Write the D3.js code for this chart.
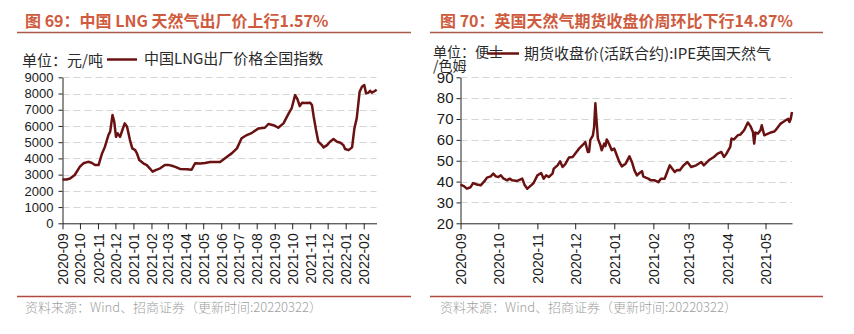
<!DOCTYPE html>
<html>
<head>
<meta charset="utf-8">
<script src="https://cdn.jsdelivr.net/npm/d3@7"></script>
<style>
  body { margin: 0; background: #fff; }
  svg { display: block; }
</style>
</head>
<body>
<svg id="chart" width="854" height="334"></svg>
<script>
// ---- China LNG ex-factory price index (yuan / ton) ----
const lngDates = ['2020-09-01','2020-09-08','2020-09-14','2020-09-22','2020-10-01','2020-10-07','2020-10-15','2020-10-21','2020-10-27','2020-11-02','2020-11-08','2020-11-13','2020-11-19','2020-11-22','2020-11-26','2020-11-29','2020-12-02','2020-12-05','2020-12-09','2020-12-13','2020-12-17','2020-12-21','2020-12-26','2020-12-30','2021-01-04','2021-01-07','2021-01-11','2021-01-18','2021-01-24','2021-01-29','2021-02-03','2021-02-08','2021-02-16','2021-02-24','2021-03-02','2021-03-08','2021-03-14','2021-03-22','2021-04-03','2021-04-11','2021-04-17','2021-04-26','2021-05-04','2021-05-13','2021-05-30','2021-06-11','2021-06-19','2021-06-28','2021-07-06','2021-07-15','2021-07-24','2021-08-04','2021-08-15','2021-08-21','2021-08-30','2021-09-07','2021-09-16','2021-09-25','2021-09-30','2021-10-06','2021-10-10','2021-10-14','2021-10-18','2021-10-23','2021-11-01','2021-11-04','2021-11-07','2021-11-11','2021-11-15','2021-11-21','2021-11-24','2021-11-30','2021-12-05','2021-12-11','2021-12-17','2021-12-23','2021-12-28','2021-12-31','2022-01-06','2022-01-12','2022-01-16','2022-01-20','2022-01-25','2022-01-29','2022-02-02','2022-02-05','2022-02-09','2022-02-12','2022-02-15','2022-02-21','2022-02-23'];
const lngValues = [2700,2700,2760,2980,3490,3700,3790,3730,3590,3590,4310,4720,5440,5650,6670,6260,5330,5540,5330,5750,6160,5950,5130,4620,4510,4310,3900,3700,3590,3390,3180,3280,3390,3600,3600,3550,3480,3350,3330,3300,3700,3680,3720,3780,3780,4100,4310,4620,5240,5440,5580,5850,5890,6120,6050,5890,6160,6780,7080,7900,7650,7225,7430,7410,7430,7290,6570,5750,5030,4820,4680,4820,5030,5190,5030,4970,4820,4580,4510,4680,5850,6470,8110,8420,8520,8010,8050,8170,8050,8170,8250];
const lngMonthLabels = ['2020-09','2020-10','2020-11','2020-12','2021-01','2021-02','2021-03','2021-04','2021-05','2021-06','2021-07','2021-08','2021-09','2021-10','2021-11','2021-12','2022-01','2022-02'];
const lngYTicks = [0,1000,2000,3000,4000,5000,6000,7000,8000,9000];

// ---- IPE UK natural gas futures close, active contract (pence / therm) ----
const nbpDates = ['2020-09-01','2020-09-04','2020-09-06','2020-09-09','2020-09-11','2020-09-14','2020-09-17','2020-09-20','2020-09-22','2020-09-25','2020-09-27','2020-09-29','2020-10-01','2020-10-03','2020-10-05','2020-10-08','2020-10-10','2020-10-12','2020-10-16','2020-10-20','2020-10-22','2020-10-24','2020-10-27','2020-10-29','2020-11-01','2020-11-04','2020-11-06','2020-11-08','2020-11-10','2020-11-13','2020-11-14','2020-11-17','2020-11-19','2020-11-21','2020-11-23','2020-11-26','2020-11-29','2020-12-02','2020-12-04','2020-12-08','2020-12-09','2020-12-11','2020-12-12','2020-12-13','2020-12-15','2020-12-16','2020-12-17','2020-12-18','2020-12-19','2020-12-21','2020-12-22','2020-12-24','2020-12-25','2020-12-26','2020-12-28','2020-12-30','2021-01-01','2021-01-03','2021-01-05','2021-01-07','2021-01-10','2021-01-13','2021-01-15','2021-01-17','2021-01-19','2021-01-21','2021-01-23','2021-01-24','2021-01-26','2021-01-28','2021-01-30','2021-02-02','2021-02-05','2021-02-07','2021-02-10','2021-02-12','2021-02-14','2021-02-16','2021-02-18','2021-02-20','2021-02-22','2021-02-25','2021-02-28','2021-03-03','2021-03-07','2021-03-11','2021-03-13','2021-03-17','2021-03-21','2021-03-24','2021-03-27','2021-03-29','2021-03-31','2021-04-03','2021-04-04','2021-04-06','2021-04-09','2021-04-11','2021-04-14','2021-04-17','2021-04-19','2021-04-21','2021-04-22','2021-04-23','2021-04-25','2021-04-27','2021-04-28','2021-04-30','2021-05-03','2021-05-05','2021-05-08','2021-05-10','2021-05-13','2021-05-15','2021-05-17','2021-05-19','2021-05-20','2021-05-21','2021-05-22'];
const nbpValues = [38.6,37.7,36.6,37.3,39.3,38.6,38.2,40.2,41.9,42.5,43.8,42.5,42.2,43,41.5,40.6,41.4,40.6,40.3,41.4,38.2,36.6,38.2,39.3,43,44.1,41.4,43,42.2,43.8,46.2,47.8,49.7,47,48.3,51.5,51.8,54.2,55.8,58.2,59,54.2,54.2,60,62,66,77.5,68.6,60.6,57.4,55,58.2,57,60.2,57.9,55,55.8,52.6,49.4,47.3,48.6,52.1,49.4,45.4,43,44.1,45,42.5,41.9,41.4,40.6,40.6,39.7,41.4,41.4,44.6,47.8,46.2,44.6,45.6,45.4,47.8,49.4,47,47.8,49.4,47.8,50.2,51.8,53.4,54.2,51.8,53.4,56.6,60.6,60.2,62.2,62.5,64.6,68.3,66.6,63.8,58.2,63.5,63,64.6,67,62.2,63,63.5,64,65.4,67.8,68.6,69.4,70.1,68.6,70.1,73.4];
const nbpMonthLabels = ['2020-09','2020-10','2020-11','2020-12','2021-01','2021-02','2021-03','2021-04','2021-05'];
const nbpYTicks = [20,30,40,50,60,70,80,90];

const parseDay = d3.timeParse('%Y-%m-%d');
const parseMonth = d3.timeParse('%Y-%m');
const fmtMonth = d3.timeFormat('%Y-%m');

const CJK = "'Noto Sans CJK SC', 'Noto Sans', sans-serif";
const NUM = "'Liberation Sans', Arial, sans-serif";
const TITLE_COLOR = '#cf5b3e';
const RULE_COLOR = '#b04a40';
const LINE_COLOR = '#6a1212';

const svg = d3.select('#chart');
svg.append('rect').attr('width', 854).attr('height', 334).attr('fill', '#fff');

function drawPanel(p) {
  const g = svg.append('g');

  // heading and rules
  g.append('text')
    .attr('x', p.titleX).attr('y', 27)
    .attr('font-family', CJK).attr('font-weight', 700).attr('font-size', 16)
    .attr('fill', TITLE_COLOR)
    .text(p.title);
  g.append('line')
    .attr('x1', p.ruleX0).attr('x2', p.ruleX1).attr('y1', 32.5).attr('y2', 32.5)
    .attr('stroke', '#a8594a').attr('stroke-width', 1.5);
  g.append('line')
    .attr('x1', p.ruleX0).attr('x2', p.ruleX1).attr('y1', 296.5).attr('y2', 296.5)
    .attr('stroke', RULE_COLOR).attr('stroke-width', 1.5);
  g.append('text')
    .attr('x', p.titleX).attr('y', 312)
    .attr('font-family', CJK).attr('font-weight', 300).attr('font-size', 13)
    .attr('fill', '#a0a0a0')
    .text('资料来源：Wind、招商证券（更新时间:20220322）');

  // scales
  const x = d3.scaleTime()
    .domain([parseDay(p.dates[0]), parseDay(p.xEnd)])
    .range([p.left, p.right]);
  const y = d3.scaleLinear()
    .domain(d3.extent(p.yTicks))
    .range([p.bottom, p.top]);

  // dashed gridlines
  g.append('g').selectAll('line')
    .data(p.yTicks.slice(1))
    .join('line')
    .attr('x1', p.left).attr('x2', p.right)
    .attr('y1', d => Math.round(y(d)) + 0.5).attr('y2', d => Math.round(y(d)) + 0.5)
    .attr('stroke', '#d6d6d6').attr('stroke-width', 1)
    .attr('stroke-dasharray', '7,4');

  // y axis
  const yAxis = g.append('g')
    .attr('transform', `translate(${p.left},0)`)
    .call(d3.axisLeft(y).tickValues(p.yTicks).tickFormat(d3.format('d'))
      .tickSize(4).tickPadding(p.yPad).tickSizeOuter(0));
  yAxis.selectAll('text')
    .attr('font-family', NUM).attr('font-size', p.yFont).attr('fill', '#1a1a1a');
  yAxis.selectAll('line, path').attr('stroke', '#222');

  // x axis with vertical month labels
  const xAxis = g.append('g')
    .attr('transform', `translate(0,${p.bottom})`)
    .call(d3.axisBottom(x)
      .tickValues(p.months.map(parseMonth))
      .tickFormat(fmtMonth)
      .tickSize(6).tickSizeOuter(0));
  xAxis.selectAll('line, path').attr('stroke', '#222');
  xAxis.selectAll('text')
    .attr('font-family', NUM).attr('font-size', 14).attr('fill', '#1a1a1a')
    .attr('transform', 'rotate(-90)')
    .attr('text-anchor', 'end')
    .attr('x', -10).attr('y', 0).attr('dy', '0.36em');

  // series line
  const series = p.dates.map((d, i) => ({ date: parseDay(d), value: p.values[i] }));
  g.append('path')
    .datum(series)
    .attr('fill', 'none')
    .attr('stroke', LINE_COLOR)
    .attr('stroke-width', 2.5)
    .attr('stroke-linejoin', 'round')
    .attr('d', d3.line().x(d => x(d.date)).y(d => y(d.value)));

  // unit note (possibly wrapped onto two lines) and legend
  const unit = g.append('text')
    .attr('font-family', CJK).attr('font-size', p.unitFont).attr('fill', '#2a2a2a');
  p.unitLines.forEach((t, i) => {
    unit.append('tspan')
      .attr('x', p.unitX).attr('y', p.unitY + i * 14)
      .text(t);
  });
  g.append('line')
    .attr('x1', p.legX0).attr('x2', p.legX1).attr('y1', p.legY).attr('y2', p.legY)
    .attr('stroke', LINE_COLOR).attr('stroke-width', 2.5);
  g.append('text')
    .attr('x', p.legTextX).attr('y', p.legTextY)
    .attr('font-family', CJK).attr('font-size', 15).attr('fill', '#2a2a2a')
    .text(p.legend);
}

drawPanel({
  title: '图 69：中国 LNG 天然气出厂价上行1.57%',
  titleX: 25, ruleX0: 17, ruleX1: 411,
  dates: lngDates, values: lngValues, xEnd: '2022-02-23',
  months: lngMonthLabels, yTicks: lngYTicks,
  left: 62.5, right: 376.5, top: 77.3, bottom: 223.3,
  yFont: 13, yPad: 5,
  unitLines: ['单位：元/吨'], unitFont: 15, unitX: 22, unitY: 66,
  legX0: 107, legX1: 137, legY: 59.5, legTextX: 144, legTextY: 64,
  legend: '中国LNG出厂价格全国指数'
});

drawPanel({
  title: '图 70：英国天然气期货收盘价周环比下行14.87%',
  titleX: 440, ruleX0: 430, ruleX1: 823,
  dates: nbpDates, values: nbpValues, xEnd: '2021-05-22',
  months: nbpMonthLabels, yTicks: nbpYTicks,
  left: 460.5, right: 792, top: 77.3, bottom: 223.3,
  yFont: 15, yPad: 3,
  unitLines: ['单位：便士', '/色姆'], unitFont: 14, unitX: 433, unitY: 57,
  legX0: 487, legX1: 519, legY: 53.5, legTextX: 524, legTextY: 59,
  legend: '期货收盘价(活跃合约):IPE英国天然气'
});
</script>
</body>
</html>
